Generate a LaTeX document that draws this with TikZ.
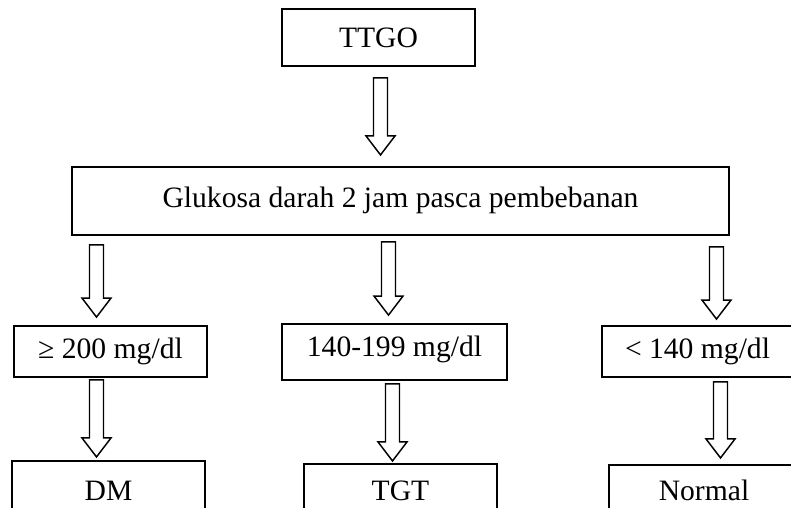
\documentclass[tikz,border=0pt]{standalone}
\usepackage{fontspec}
\setmainfont{Liberation Serif}
\usetikzlibrary{calc, positioning}

% hollow block arrow: from, to, x offset, top gap, tip gap (px)
\newcommand{\blockarrow}[5]{%
  \path ([xshift=#3*0.75pt, yshift=#5*0.75pt]#2.north) coordinate (tip)
        (tip |- #1.south) coordinate (top);
  \draw[hollow] ($(top)+(-7,#4)$) -- ($(top)+(7,#4)$)
        -- ($(tip)+(7,-19)$) -- ($(tip)+(14.5,-19)$) -- (tip)
        -- ($(tip)+(-14.5,-19)$) -- ($(tip)+(-7,-19)$) -- cycle;
}

\begin{document}
\begin{tikzpicture}[
                x = 0.75pt, y = -0.75pt, % one unit = one pixel
                font = \fontsize{22.2pt}{26pt}\selectfont
                ]
                \tikzstyle{box}=[
                    draw,
                    line width = 1.4pt,
                    inner sep = 0pt,
                    text height = 14.7pt,
                    text depth = 0pt
                ]
                \tikzstyle{hollow}=[
                    draw,
                    fill = white,
                    line width = 1.1pt
                ]
                \useasboundingbox (0,0) rectangle (791,507);
                \clip (0,0) rectangle (791,507);

                \node[box, minimum width=144.75pt, minimum height=42.75pt] (ttgo) at (378.5,37.5) {TTGO};
                \node[box, minimum width=492.75pt, minimum height=51pt, text depth=4.5pt] (gluk)
                    [below=74.25pt of ttgo, xshift=16.5pt] {Glukosa darah 2 jam pasca pembebanan};

                \node[box, minimum width=144.75pt, minimum height=38.25pt, text depth=3.75pt] (k1) at (110.5,351.5) {≥ 200 mg/dl};
                \node[box, minimum width=168.75pt, minimum height=42pt, text depth=7.5pt] (k2) at (394.5,352) {140-199 mg/dl};
                \node[box, minimum width=143.25pt, minimum height=38.25pt, text depth=3.75pt] (k3) at (697.5,351.5) {< 140 mg/dl};

                \node[box, minimum width=144.75pt, minimum height=45pt] (dm)
                    [below=61.5pt of k1, xshift=-1.5pt] {DM};
                \node[box, minimum width=144.75pt, minimum height=40.5pt] (tgt)
                    [below=61.5pt of k2, xshift=4.5pt] {TGT};
                \node[box, minimum width=142.5pt, minimum height=39pt] (normal)
                    [below=64.5pt of k3, xshift=4.875pt] {Normal};

                \blockarrow{ttgo}{gluk}{-20}{11}{11}
                \blockarrow{gluk}{k1}{-14}{9}{8}
                \blockarrow{gluk}{k2}{-6}{6}{8}
                \blockarrow{gluk}{k3}{19}{11}{6}
                \blockarrow{k1}{dm}{-12}{2}{3}
                \blockarrow{k2}{tgt}{-8}{3}{2}
                \blockarrow{k3}{normal}{16.5}{4}{6}
            \end{tikzpicture}
\end{document}
